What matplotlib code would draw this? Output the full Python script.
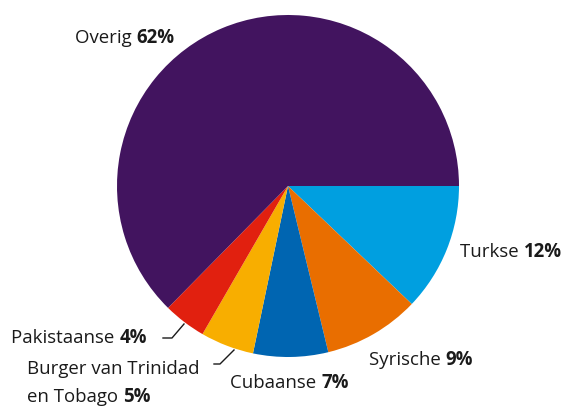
import matplotlib
matplotlib.use("Agg")
import matplotlib.pyplot as plt

# data
groups = ["Turkse", "Syrische", "Cubaanse", "Burger van Trinidad\nen Tobago", "Pakistaanse", "Overig"]
shares = [12, 9, 7, 5, 4, 62]
colors = ["#009fe0", "#e96e00", "#0065b1", "#f8ae00", "#e1200f", "#42145f"]

# label anchor (left x, y of the first line centre) in pixels from top-left
label_pos = [(460, 252), (369, 360), (230, 383), (27, 369), (11, 338), (75, 38)]
# leader lines for the small slices
leaders = {3: [(214, 364), (220, 364), (234, 350)],
           4: [(163, 338), (172, 338), (184, 324)]}

W, H = 563, 409
fig = plt.figure(figsize=(W / 100, H / 100), dpi=100)
ax = fig.add_axes([0, 0, 1, 1])

ax.pie(shares, colors=colors, startangle=0, counterclock=False,
       center=(288, H - 186), radius=171, frame=True,
       wedgeprops=dict(linewidth=0))
ax.set_xlim(0, W)
ax.set_ylim(0, H)
ax.set_aspect("equal")
ax.axis("off")

font = "Open Sans"
fs = 13.4
line_h = 28

fig.canvas.draw()
renderer = fig.canvas.get_renderer()
for i, (name, val) in enumerate(zip(groups, shares)):
    x, y = label_pos[i]
    lines = name.split("\n")
    for j, ln in enumerate(lines):
        t = ax.text(x, H - (y + j * line_h), ln + " ", fontsize=fs, family=font,
                    color="#1a1a1a", ha="left", va="center")
    bb = t.get_window_extent(renderer)
    x_end = ax.transData.inverted().transform((bb.x1, bb.y0))[0]
    ax.text(x_end, H - (y + (len(lines) - 1) * line_h), f"{val}%", fontsize=fs,
            family=font, weight="bold", color="#1a1a1a", ha="left", va="center")

for k, pts in leaders.items():
    ax.plot([p[0] for p in pts], [H - p[1] for p in pts], color="#1a1a1a", lw=1)

fig.savefig("out.png", dpi=100)
